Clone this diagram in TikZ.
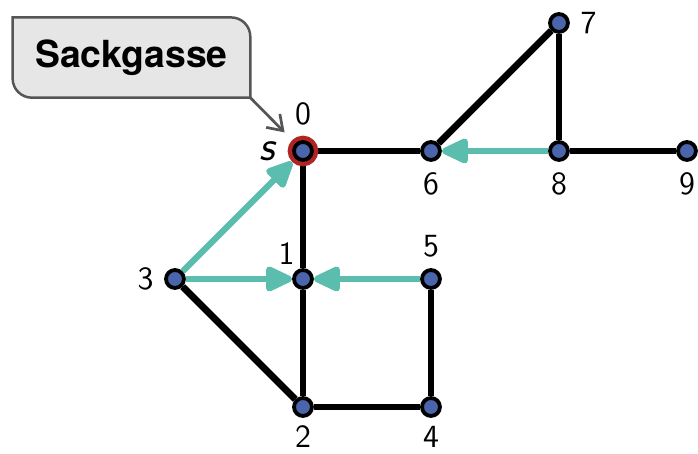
\documentclass[tikz,border=0pt]{standalone}
\usepackage{fontspec}
\usepackage{tikz}
\usetikzlibrary{positioning,calc,arrows.meta,backgrounds}
\newfontfamily\calloutfont{TeX Gyre Heros}
\definecolor{vblue}{HTML}{4A65AB}
\definecolor{treeteal}{HTML}{5BBDAD}
\definecolor{srcred}{HTML}{B02424}
\definecolor{boxgray}{HTML}{E6E6E6}
\definecolor{pengray}{HTML}{555555}

\begin{document}
\begin{tikzpicture}[
  vertex/.style={circle,draw=black,fill=vblue,line width=1.7pt,minimum size=0.28cm,inner sep=0pt},
  source/.style={vertex,preaction={draw=srcred,line width=5.6pt},outer sep=2.8pt},
  lbl/.style={font=\sffamily\fontsize{14.4}{16}\selectfont,inner sep=0pt},
  edge/.style={line width=3pt,black},
  treearc/.style={line width=2.8pt,treeteal,-{Triangle[length=0.48cm,width=0.42cm,round]}},
  pointer/.style={line width=1.2pt,pengray,-{Straight Barb[length=0.22cm,width=0.3cm]}},
  label distance=0.16cm
]
\useasboundingbox (-4.734,-4.719) rectangle (6.172,2.359);

% vertices
\node[source,label={[lbl]above:0},label={[lbl,font=\sffamily\fontsize{19}{20}\selectfont,label distance=0.16cm]left:\textit{s}}] (v0) at (0,0) {};
\node[vertex,label={[lbl,label distance=0.08cm]120:1}] (v1) at (0,-2) {};
\node[vertex,label={[lbl,label distance=0.12cm]below:2}] (v2) at (0,-4) {};
\node[vertex,label={[lbl]left:3}] (v3) at (-2,-2) {};
\node[vertex,label={[lbl,label distance=0.12cm]below:4}] (v4) at (2,-4) {};
\node[vertex,label={[lbl]above:5}] (v5) at (2,-2) {};
\node[vertex,label={[lbl]below:6}] (v6) at (2,0) {};
\node[vertex,label={[lbl]right:7}] (v7) at (4,2) {};
\node[vertex,label={[lbl]below:8}] (v8) at (4,0) {};
\node[vertex,label={[lbl]below:9}] (v9) at (6,0) {};

% edges
\begin{scope}[on background layer]
\draw[edge] (v0) -- (v6);
\draw[edge] (v6) -- (v7);
\draw[edge] (v7) -- (v8);
\draw[edge] (v8) -- (v9);
\draw[edge] (v0) -- (v1);
\draw[edge] (v1) -- (v2);
\draw[edge] (v2) -- (v4);
\draw[edge] (v4) -- (v5);
\draw[edge] (v3) -- (v2);
\end{scope}

% search tree
\draw[treearc] (v3) -- (v0);
\draw[treearc] (v3) -- (v1);
\draw[treearc] (v5) -- (v1);
\draw[treearc] (v8) -- (v6);

% callout
\node[minimum width=3.7cm,minimum height=1.24cm,inner sep=0pt,font=\calloutfont\bfseries\fontsize{16.6}{19}\selectfont] (sackgasse) at (-2.68,1.46) {Sackgasse};
\begin{scope}[on background layer]
\draw[pengray,fill=boxgray,line width=1.1pt]
  (sackgasse.north west) -- ($(sackgasse.north east)+(-0.3,0)$)
  arc[start angle=90,end angle=0,radius=0.3cm]
  -- (sackgasse.south east) -- ($(sackgasse.south west)+(0.3,0)$)
  arc[start angle=270,end angle=180,radius=0.3cm] -- cycle;
\end{scope}
\draw[pointer,shorten >=0.17cm] (sackgasse.south east) -- (v0);
\end{tikzpicture}
\end{document}
